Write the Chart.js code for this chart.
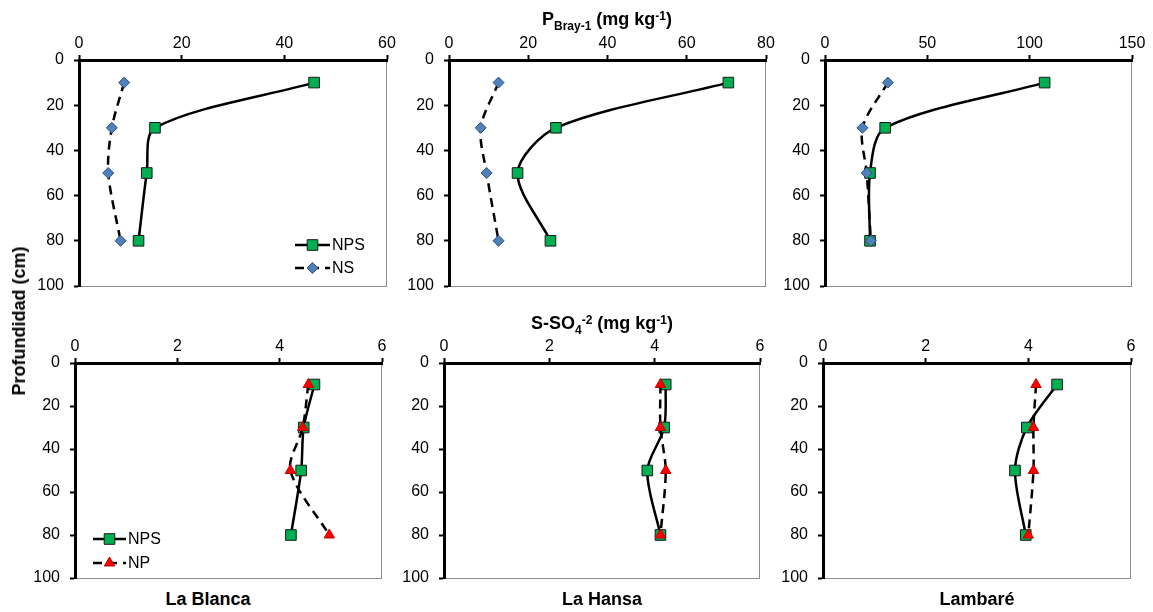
<!DOCTYPE html>
<html>
<head>
<meta charset="utf-8">
<script src="https://cdn.jsdelivr.net/npm/chart.js@4.4.1/dist/chart.umd.min.js"></script>
<style>
  body { margin: 0; background: #fff; }
  #wrap { position: relative; width: 1153px; height: 612px; overflow: hidden; font-family: "Liberation Sans", Arial, sans-serif; color: #000; }
  canvas { position: absolute; }
  .ttl { position: absolute; font-weight: bold; font-size: 18px; white-space: nowrap; transform: translate(-50%, -50%); line-height: 1; }
  .ttl sub, .ttl sup { font-size: 12px; line-height: 0; }
  .ttl sup { vertical-align: 0.45em; }
  .ylab { transform: translate(-50%, -50%) rotate(-90deg); }
</style>
</head>
<body>
<div id="wrap">
  <canvas id="p-blanca"></canvas>
  <canvas id="p-hansa"></canvas>
  <canvas id="p-lambare"></canvas>
  <canvas id="s-blanca"></canvas>
  <canvas id="s-hansa"></canvas>
  <canvas id="s-lambare"></canvas>
  <div class="ttl" style="left:607px; top:19px;">P<sub>Bray-1</sub> (mg kg<sup>-1</sup>)</div>
  <div class="ttl" style="left:602px; top:323px;">S-SO<sub>4</sub><sup>-2</sup> (mg kg<sup>-1</sup>)</div>
  <div class="ttl ylab" style="left:19px; top:321px;">Profundidad (cm)</div>
  <div class="ttl" style="left:208px; top:599px;">La Blanca</div>
  <div class="ttl" style="left:602px; top:599px;">La Hansa</div>
  <div class="ttl" style="left:977px; top:599px;">Lambaré</div>
</div>
<script>
// depth of each sample (cm)
const depthCm = [10, 30, 50, 80];

// P Bray-1 (mg kg-1)
const pBlancaNPS = [45.8, 14.8, 13.2, 11.6];
const pBlancaNS = [8.8, 6.4, 5.7, 8.1];
const pHansaNPS = [70.5, 27.0, 17.3, 25.6];
const pHansaNS = [12.5, 8.0, 9.5, 12.5];
const pLambareNPS = [107.3, 29.4, 22.0, 22.0];
const pLambareNS = [30.7, 18.3, 20.4, 22.4];

// S-SO4 (mg kg-1)
const sBlancaNPS = [4.68, 4.47, 4.42, 4.22];
const sBlancaNP = [4.56, 4.45, 4.21, 4.97];
const sHansaNPS = [4.21, 4.18, 3.86, 4.11];
const sHansaNP = [4.11, 4.11, 4.21, 4.11];
const sLambareNPS = [4.56, 3.97, 3.74, 3.95];
const sLambareNP = [4.15, 4.10, 4.10, 4.00];

// axis ranges
const pMax = [60, 80, 150];
const pStep = [20, 20, 50];
const sMax = 6;
const sStep = 2;
const depthMax = 100;
const depthStep = 20;

const FONT = "'Liberation Sans', Arial, sans-serif";

const styleNPS = {
  label: "NPS",
  borderColor: "#000",
  borderWidth: 2.5,
  pointStyle: "rect",
  pointRadius: 7.5,
  pointBackgroundColor: "#00B050",
  pointBorderColor: "#1a1a1a",
  pointBorderWidth: 1,
  order: 1,
};
const styleNS = {
  label: "NS",
  borderColor: "#000",
  borderWidth: 2.5,
  borderDash: [9, 6],
  pointStyle: "rectRot",
  pointRadius: 5.5,
  pointBackgroundColor: "#4F81BD",
  pointBorderColor: "#2C4D75",
  pointBorderWidth: 1,
  order: 0,
};
const styleNP = {
  label: "NP",
  borderColor: "#000",
  borderWidth: 2.5,
  borderDash: [9, 6],
  pointStyle: "triangle",
  pointRadius: 6,
  pointBackgroundColor: "#FF0000",
  pointBorderColor: "#C00000",
  pointBorderWidth: 1,
  order: 0,
};

function toPoints(values) {
  return values.map((v, i) => ({ x: v, y: depthCm[i] }));
}

function makeSet(style, values) {
  return Object.assign({}, style, {
    data: toPoints(values),
    showLine: true,
    tension: 0.3,
    fill: false,
  });
}

// light frame on the right/bottom of the plot area
const framePlugin = {
  id: "frame",
  beforeDraw(chart) {
    const { ctx, chartArea: a } = chart;
    ctx.save();
    ctx.strokeStyle = "#8c8c8c";
    ctx.lineWidth = 1;
    ctx.strokeRect(a.left + 0.5, a.top + 0.5, a.right - a.left - 1, a.bottom - a.top);
    ctx.restore();
  },
};

// legend drawn inside the plot area, line + marker + text
const boxLegend = {
  id: "boxLegend",
  afterDatasetsDraw(chart, args, opts) {
    if (!opts.show) return;
    const { ctx, chartArea: a } = chart;
    const sets = chart.data.datasets;
    sets.forEach((ds, i) => {
      const x0 = a.left + opts.x;
      const x1 = x0 + opts.len;
      const y = a.top + opts.y + i * opts.gap;
      ctx.save();
      ctx.strokeStyle = ds.borderColor;
      ctx.lineWidth = ds.borderWidth;
      ctx.setLineDash(ds.borderDash || []);
      ctx.beginPath();
      ctx.moveTo(x0, y);
      ctx.lineTo(x1, y);
      ctx.stroke();
      ctx.setLineDash([]);
      ctx.fillStyle = ds.pointBackgroundColor;
      ctx.strokeStyle = ds.pointBorderColor;
      ctx.lineWidth = ds.pointBorderWidth;
      Chart.helpers.drawPoint(ctx, { pointStyle: ds.pointStyle, radius: ds.pointRadius, rotation: 0, borderWidth: ds.pointBorderWidth }, (x0 + x1) / 2, y);
      ctx.fillStyle = "#000";
      ctx.font = `16px ${FONT}`;
      ctx.textBaseline = "middle";
      ctx.textAlign = "left";
      ctx.fillText(ds.label, x1 + 2, y + 1);
      ctx.restore();
    });
  },
};

function tickFont() {
  return { size: 16, family: FONT };
}

function makePanel(id, box, xMax, xStep, datasets, legend) {
  const [left, top, right, bottom] = box;
  const canvas = document.getElementById(id);
  canvas.width = right - left + 70;
  canvas.height = bottom - top + 50;
  canvas.style.left = `${left - 50}px`;
  canvas.style.top = `${top - 40}px`;

  return new Chart(canvas.getContext("2d"), {
    type: "scatter",
    data: { datasets: datasets },
    plugins: [framePlugin, boxLegend],
    options: {
      responsive: false,
      animation: false,
      events: [],
      layout: { padding: { left: 0, top: 0, right: 20, bottom: 10 } },
      plugins: {
        legend: { display: false },
        tooltip: { enabled: false },
        boxLegend: legend || { show: false },
      },
      scales: {
        x: {
          type: "linear",
          position: "top",
          min: 0,
          max: xMax,
          border: { display: true, color: "#000", width: 3 },
          grid: { display: true, drawOnChartArea: false, drawTicks: true, tickLength: 5, tickWidth: 2, tickColor: "#000" },
          ticks: { stepSize: xStep, padding: 2, color: "#000", maxRotation: 0, font: tickFont() },
          afterFit: (s) => {
            s.height = 40;
            s.paddingLeft = 0;
            s.paddingRight = 0;
          },
        },
        y: {
          type: "linear",
          reverse: true,
          min: 0,
          max: depthMax,
          border: { display: true, color: "#000", width: 3 },
          grid: { display: true, drawOnChartArea: false, drawTicks: true, tickLength: 5, tickWidth: 2, tickColor: "#000" },
          ticks: { stepSize: depthStep, padding: 10, color: "#000", font: tickFont() },
          afterFit: (s) => {
            s.width = 50;
            s.paddingTop = 0;
            s.paddingBottom = 0;
          },
        },
      },
    },
  });
}

makePanel("p-blanca", [79, 60, 387, 286], pMax[0], pStep[0],
  [makeSet(styleNPS, pBlancaNPS), makeSet(styleNS, pBlancaNS)],
  { show: true, x: 216, y: 185, len: 35, gap: 23 });
makePanel("p-hansa", [449, 60, 766, 286], pMax[1], pStep[1],
  [makeSet(styleNPS, pHansaNPS), makeSet(styleNS, pHansaNS)]);
makePanel("p-lambare", [825, 60, 1132, 286], pMax[2], pStep[2],
  [makeSet(styleNPS, pLambareNPS), makeSet(styleNS, pLambareNS)]);

makePanel("s-blanca", [75, 363, 382, 578], sMax, sStep,
  [makeSet(styleNPS, sBlancaNPS), makeSet(styleNP, sBlancaNP)],
  { show: true, x: 18, y: 176, len: 33, gap: 24 });
makePanel("s-hansa", [444, 363, 760, 578], sMax, sStep,
  [makeSet(styleNPS, sHansaNPS), makeSet(styleNP, sHansaNP)]);
makePanel("s-lambare", [823, 363, 1131, 578], sMax, sStep,
  [makeSet(styleNPS, sLambareNPS), makeSet(styleNP, sLambareNP)]);
</script>
</body>
</html>
